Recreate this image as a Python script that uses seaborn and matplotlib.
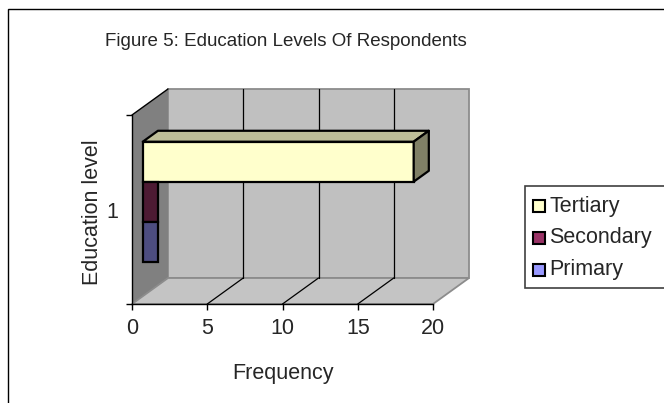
import matplotlib
matplotlib.use("Agg")
import matplotlib.pyplot as plt
import pandas as pd
import seaborn as sns
from matplotlib.patches import Polygon, Rectangle
from matplotlib.lines import Line2D
from matplotlib.transforms import IdentityTransform, ScaledTranslation

# ---- data -------------------------------------------------------------
levels = ["Tertiary", "Secondary", "Primary"]
frequency = [18, 1, 1]
category = ["1", "1", "1"]
x_ticks = [0, 5, 10, 15, 20]

title = "Figure 5: Education Levels Of Respondents"
x_label = "Frequency"
y_label = "Education level"

# colours of the bar faces in the plot and of the legend keys
face_colors = {"Tertiary": "#FFFFCC", "Secondary": "#4D1A33", "Primary": "#4D4D80"}
legend_colors = {"Tertiary": "#FFFFCC", "Secondary": "#993366", "Primary": "#9999FF"}

# ---- figure -----------------------------------------------------------
sns.set_theme(style="white")
plt.rcParams["font.family"] = ["Liberation Sans", "DejaVu Sans"]
FS = 15.5
FS_TITLE = 13.5

W, H, DPI = 664, 403, 100
fig = plt.figure(figsize=(W / DPI, H / DPI), dpi=DPI)
fig.patch.set_facecolor("white")

# front plane of the plot box (pixels from the top-left corner)
X0, X1, YT, YB = 132, 433, 115, 304
ax = fig.add_axes([X0 / W, 1 - YB / H, (X1 - X0) / W, (YB - YT) / H])
ax.patch.set_alpha(0)
ax.set_zorder(2)

df = pd.DataFrame({"Education": levels, "Frequency": frequency, "Level": category})
sns.barplot(data=df, x="Frequency", y="Level", hue="Education", hue_order=levels,
            palette=face_colors, orient="h", width=0.635, dodge=True,
            saturation=1, legend=False, edgecolor="black", linewidth=1.6,
            ax=ax)

ax.set_xlim(0, 20)
ax.set_ylim(0.5, -0.5)

# depth of the 3-D box, in pixels (right, up)
DX, DY = 36, 26
BAR_FRONT, BAR_BACK = 0.30, 0.72


def disp(x, y, d=0.0):
    px, py = ax.transData.transform((x, y))
    return (px + d * DX, py + d * DY)


def poly(points, where=None, **kw):
    p = Polygon(points, closed=True, transform=IdentityTransform(), clip_on=False, **kw)
    (where or fig).add_artist(p)
    return p


def seg(a, b, **kw):
    ln = Line2D([a[0], b[0]], [a[1], b[1]], transform=IdentityTransform(),
                clip_on=False, **kw)
    fig.add_artist(ln)


xmax = x_ticks[-1]
top, bot = -0.5, 0.5

# walls and floor, drawn underneath the axes
poly([disp(0, bot, 1), disp(xmax, bot, 1), disp(xmax, top, 1), disp(0, top, 1)],
     facecolor="#C0C0C0", edgecolor="#8C8C8C", linewidth=1.3, zorder=0.5)
poly([disp(0, top, 0), disp(0, top, 1), disp(0, bot, 1), disp(0, bot, 0)],
     facecolor="#808080", edgecolor="none", zorder=0.6)
poly([disp(0, bot, 0), disp(xmax, bot, 0), disp(xmax, bot, 1), disp(0, bot, 1)],
     facecolor="#C4C4C4", edgecolor="#8C8C8C", linewidth=1.3, zorder=0.7)

# gridlines on the back wall and across the floor
for v in x_ticks[1:-1]:
    seg(disp(v, bot, 1), disp(v, top, 1), color="black", linewidth=0.9, zorder=0.9)
    seg(disp(v, bot, 0), disp(v, bot, 1), color="black", linewidth=0.9, zorder=0.9)
seg(disp(0, top, 0), disp(0, top, 1), color="black", linewidth=1.0, zorder=0.9)

# bars: push the fronts back into the box and shade the top and end faces
shift = ScaledTranslation(BAR_FRONT * DX / DPI, BAR_FRONT * DY / DPI, fig.dpi_scale_trans)
bars = list(ax.patches)
for bar in bars:
    bar.set_transform(ax.transData + shift)
    bar.set_zorder(3)

lead = bars[0]  # the Tertiary bar sits on top of the stack
c = matplotlib.colors.to_rgb(lead.get_facecolor())
w, y, h = lead.get_width(), lead.get_y(), lead.get_height()
poly([disp(0, y, BAR_FRONT), disp(w, y, BAR_FRONT), disp(w, y, BAR_BACK), disp(0, y, BAR_BACK)],
     where=ax, facecolor=[v * 0.75 for v in c], edgecolor="black", linewidth=1.6,
     joinstyle="round", zorder=3.1)
poly([disp(w, y, BAR_FRONT), disp(w, y, BAR_BACK), disp(w, y + h, BAR_BACK), disp(w, y + h, BAR_FRONT)],
     where=ax, facecolor=[v * 0.5 for v in c], edgecolor="black", linewidth=1.6,
     joinstyle="round", zorder=3.1)

# axes lines, ticks and labels
for s in ["top", "right"]:
    ax.spines[s].set_visible(False)
for s in ["left", "bottom"]:
    ax.spines[s].set_visible(True)
    ax.spines[s].set_color("black")
    ax.spines[s].set_linewidth(1.0)

ax.set_xticks(x_ticks)
ax.set_xticklabels([str(t) for t in x_ticks])
ax.tick_params(axis="x", direction="out", length=4, width=1, color="black",
               labelsize=FS, pad=6, bottom=True)
ax.set_yticks([0])
ax.set_yticklabels(["1"])
ax.set_yticks([-0.5, 0.5], minor=True)
ax.tick_params(axis="y", which="major", length=0, labelsize=FS, pad=10)
ax.tick_params(axis="y", which="minor", direction="out", length=4, width=1,
               color="black", left=True)
ax.set_xlabel("")
ax.set_ylabel("")

fig.text(286 / W, 1 - 41 / H, title, ha="center", va="center", fontsize=FS_TITLE)
fig.text(283 / W, 1 - 373 / H, x_label, ha="center", va="center", fontsize=FS)
fig.text(92 / W, 1 - 212 / H, y_label, ha="center", va="center", rotation=90, fontsize=FS)

# chart frame
fig.add_artist(Rectangle((8 / W, -0.5), 2, 1.5 - 9 / H, transform=fig.transFigure,
                         fill=False, edgecolor="black", linewidth=1.0, zorder=0.1))

# legend box with square keys
LX, LT, LB = 525, 186, 288
fig.add_artist(Rectangle((LX / W, 1 - LB / H), 1, (LB - LT) / H, transform=fig.transFigure,
                         facecolor="white", edgecolor="#404040", linewidth=1.2, zorder=3))
for i, name in enumerate(levels):
    cy = 206 + 32 * i
    fig.add_artist(Rectangle((533 / W, 1 - (cy + 6) / H), 12 / W, 12 / H,
                             transform=fig.transFigure, facecolor=legend_colors[name],
                             edgecolor="black", linewidth=1.5, zorder=4))
    fig.text(549 / W, 1 - cy / H, name, ha="left", va="center", fontsize=FS, zorder=4)

fig.savefig("out.png", dpi=DPI)
